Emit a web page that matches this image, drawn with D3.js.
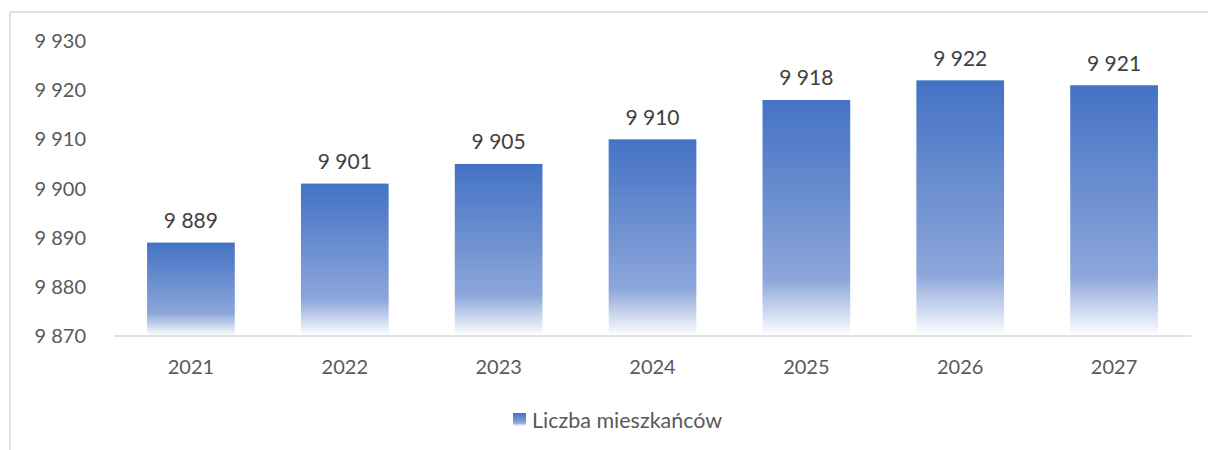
<!DOCTYPE html>
<html>
<head>
<meta charset="utf-8">
<script src="https://cdn.jsdelivr.net/npm/d3@7"></script>
<style>
  body { margin: 0; background: #fff; }
  text { font-family: Lato, "Open Sans", sans-serif; }
</style>
</head>
<body>
<svg id="chart" width="1208" height="450"></svg>
<script>
// data
const years = ["2021", "2022", "2023", "2024", "2025", "2026", "2027"];
const residents = [9889, 9901, 9905, 9910, 9918, 9922, 9921];
const yTicks = [9870, 9880, 9890, 9900, 9910, 9920, 9930];
const seriesName = "Liczba mieszkańców";

const svg = d3.select("#chart");
const fmt = v => d3.format(",")(v).replace(/,/g, " ");

// chart frame (top and left edges visible)
svg.append("line").attr("x1", 10).attr("y1", 12).attr("x2", 1208).attr("y2", 12)
  .attr("stroke", "#d9d9d9").attr("stroke-width", 1.5);
svg.append("line").attr("x1", 10).attr("y1", 12).attr("x2", 10).attr("y2", 450)
  .attr("stroke", "#d9d9d9").attr("stroke-width", 1.5);

const x = d3.scaleBand().domain(years).range([114, 1191]).paddingInner(0.43).paddingOuter(0.215);
const y = d3.scaleLinear().domain([9870, 9930]).range([336, 41]);

// bar gradient
const grad = svg.append("defs").append("linearGradient")
  .attr("id", "barGrad").attr("x1", 0).attr("y1", 0).attr("x2", 0).attr("y2", 1);
grad.append("stop").attr("offset", "0%").attr("stop-color", "#4472c4");
grad.append("stop").attr("offset", "76%").attr("stop-color", "#8ca6da");
grad.append("stop").attr("offset", "100%").attr("stop-color", "#ffffff");

// y axis labels
svg.append("g").selectAll("text").data(yTicks).join("text")
  .attr("x", 86).attr("y", d => y(d)).attr("dy", "0.35em")
  .attr("text-anchor", "end").attr("font-size", 20).attr("fill", "#595959")
  .text(fmt);

// bars
svg.append("g").selectAll("rect").data(residents).join("rect")
  .attr("x", (d, i) => x(years[i]))
  .attr("y", d => y(d))
  .attr("width", x.bandwidth())
  .attr("height", d => y(9870) - y(d))
  .attr("fill", "url(#barGrad)");

// baseline
svg.append("line").attr("x1", 114).attr("x2", 1191).attr("y1", y(9870)).attr("y2", y(9870))
  .attr("stroke", "#d9d9d9").attr("stroke-width", 1.5);

// data labels
svg.append("g").selectAll("text").data(residents).join("text")
  .attr("x", (d, i) => x(years[i]) + x.bandwidth() / 2)
  .attr("y", d => y(d) - 22).attr("dy", "0.35em")
  .attr("text-anchor", "middle").attr("font-size", 21).attr("fill", "#404040")
  .text(fmt);

// x axis labels
svg.append("g").selectAll("text").data(years).join("text")
  .attr("x", d => x(d) + x.bandwidth() / 2)
  .attr("y", 367).attr("dy", "0.35em")
  .attr("text-anchor", "middle").attr("font-size", 20).attr("fill", "#595959")
  .text(d => d);

// legend
const legend = svg.append("g").attr("transform", "translate(513,413)");
legend.append("rect").attr("width", 13).attr("height", 13).attr("fill", "url(#barGrad)");
legend.append("text").attr("x", 19).attr("y", 7).attr("dy", "0.35em")
  .attr("font-size", 21.5).attr("fill", "#595959").text(seriesName);
</script>
</body>
</html>
